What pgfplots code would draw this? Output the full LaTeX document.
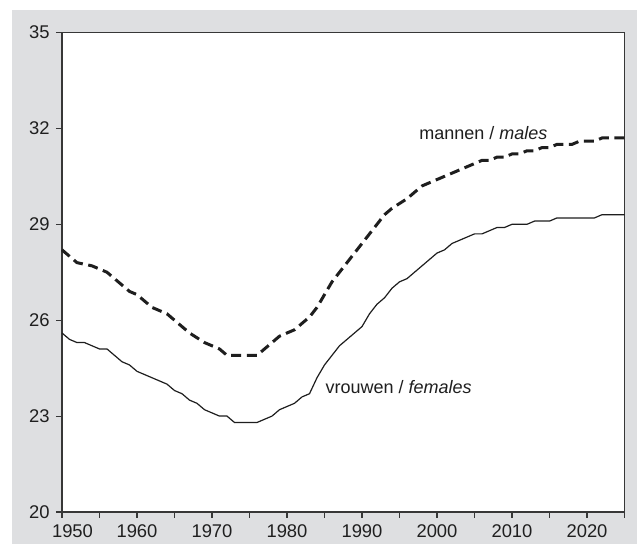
\documentclass[border=0pt]{standalone}
\usepackage{fontspec}
\setmainfont{Liberation Sans}
\usepackage{pgfplots}
\pgfplotsset{compat=1.18}
\definecolor{bg}{RGB}{222,223,225}
\definecolor{ax}{RGB}{55,55,55}
\definecolor{ln}{RGB}{30,30,30}
\begin{document}
\begin{tikzpicture}
\fill[white] (-31pt,-16pt) rectangle (287.5pt,256pt);
\fill[bg] (-25pt,-16pt) rectangle (287.5pt,251pt);
\begin{axis}[
  at={(0,0)}, anchor=south west,
  scale only axis, width=281.25pt, height=239.75pt,
  xmin=1950, xmax=2025, ymin=20, ymax=35,
  axis background/.style={fill=white},
  axis line style={ax, line width=0.55pt},
  every tick/.style={ax, line width=0.55pt},
  tick align=outside, major tick length=3pt,
  xtick pos=bottom, ytick pos=left,
  xtick={1950,1955,...,2025},
  xticklabels={\hspace*{10.5pt}1950,,1960,,1970,,1980,,1990,,2000,,2010,,2020,},
  ytick={20,23,26,29,32,35},
  /pgf/number format/assume math mode=true,
  /pgf/number format/1000 sep={},
  tick label style={font=\fontsize{9.2}{11}\selectfont, text=black!88},
  yticklabel style={xshift=0.3pt},
  clip=false,
]
\addplot[ln, line width=1.5pt, dash pattern=on 5pt off 2.8pt] coordinates {
(1950,28.2)(1951,28.0)(1952,27.8)(1953,27.75)(1954,27.7)(1955,27.6)(1956,27.5)(1957,27.3)(1958,27.1)(1959,26.9)
(1960,26.8)(1961,26.6)(1962,26.4)(1963,26.3)(1964,26.2)(1965,26.0)(1966,25.8)(1967,25.6)(1968,25.45)(1969,25.3)
(1970,25.2)(1971,25.1)(1972,24.9)(1973,24.9)(1974,24.9)(1975,24.9)(1976,24.9)(1977,25.1)(1978,25.3)(1979,25.5)
(1980,25.6)(1981,25.7)(1982,25.9)(1983,26.1)(1984,26.4)(1985,26.8)(1986,27.2)(1987,27.5)(1988,27.8)(1989,28.1)
(1990,28.4)(1991,28.7)(1992,29.0)(1993,29.3)(1994,29.5)(1995,29.65)(1996,29.8)(1997,30.0)(1998,30.2)(1999,30.3)
(2000,30.4)(2001,30.5)(2002,30.6)(2003,30.7)(2004,30.8)(2005,30.9)(2006,31.0)(2007,31.0)(2008,31.1)(2009,31.1)
(2010,31.2)(2011,31.2)(2012,31.3)(2013,31.3)(2014,31.4)(2015,31.4)(2016,31.5)(2017,31.5)(2018,31.5)(2019,31.6)
(2020,31.6)(2021,31.6)(2022,31.7)(2023,31.7)(2024,31.7)(2025,31.7)
};
\addplot[ln, line width=0.6pt] coordinates {
(1950,25.6)(1951,25.4)(1952,25.3)(1953,25.3)(1954,25.2)(1955,25.1)(1956,25.1)(1957,24.9)(1958,24.7)(1959,24.6)
(1960,24.4)(1961,24.3)(1962,24.2)(1963,24.1)(1964,24.0)(1965,23.8)(1966,23.7)(1967,23.5)(1968,23.4)(1969,23.2)
(1970,23.1)(1971,23.0)(1972,23.0)(1973,22.8)(1974,22.8)(1975,22.8)(1976,22.8)(1977,22.9)(1978,23.0)(1979,23.2)
(1980,23.3)(1981,23.4)(1982,23.6)(1983,23.7)(1984,24.2)(1985,24.6)(1986,24.9)(1987,25.2)(1988,25.4)(1989,25.6)
(1990,25.8)(1991,26.2)(1992,26.5)(1993,26.7)(1994,27.0)(1995,27.2)(1996,27.3)(1997,27.5)(1998,27.7)(1999,27.9)
(2000,28.1)(2001,28.2)(2002,28.4)(2003,28.5)(2004,28.6)(2005,28.7)(2006,28.7)(2007,28.8)(2008,28.9)(2009,28.9)
(2010,29.0)(2011,29.0)(2012,29.0)(2013,29.1)(2014,29.1)(2015,29.1)(2016,29.2)(2017,29.2)(2018,29.2)(2019,29.2)
(2020,29.2)(2021,29.2)(2022,29.3)(2023,29.3)(2024,29.3)(2025,29.3)
};
\node[anchor=base west, inner sep=0pt, font=\fontsize{9}{11}\selectfont, text=black!88] at (axis cs:1997.6,31.66) {mannen / \textit{males}};
\node[anchor=base west, inner sep=0pt, font=\fontsize{9}{11}\selectfont, text=black!88] at (axis cs:1985.1,23.71) {vrouwen / \textit{females}};
\end{axis}
\end{tikzpicture}
\end{document}
